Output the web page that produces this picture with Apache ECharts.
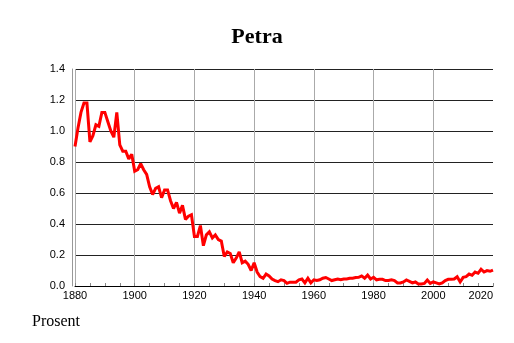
<!DOCTYPE html>
<html>
<head>
<meta charset="utf-8">
<script src="https://cdn.jsdelivr.net/npm/echarts@6/dist/echarts.min.js"></script>
<style>
  html, body { margin: 0; padding: 0; background: #fff; }
  #chart { width: 514px; height: 343px; }
</style>
</head>
<body>
<div id="chart"></div>
<script>
// år og andel (prosent)
const startYear = 1880
const values = [
  0.90, 1.02, 1.12, 1.18, 1.18, 0.93, 0.97, 1.04, 1.03, 1.12,
  1.12, 1.06, 1.00, 0.96, 1.12, 0.91, 0.87, 0.87, 0.82, 0.85,
  0.74, 0.75, 0.79, 0.75, 0.72, 0.64, 0.59, 0.63, 0.64, 0.57,
  0.62, 0.62, 0.55, 0.50, 0.54, 0.47, 0.52, 0.43, 0.45, 0.46,
  0.32, 0.32, 0.39, 0.26, 0.33, 0.35, 0.31, 0.33, 0.30, 0.29,
  0.19, 0.22, 0.21, 0.15, 0.18, 0.22, 0.15, 0.16, 0.14, 0.10,
  0.15, 0.09, 0.06, 0.05, 0.077, 0.065, 0.045, 0.035, 0.028, 0.04,
  0.035, 0.017, 0.025, 0.025, 0.025, 0.04, 0.045, 0.02, 0.05, 0.02,
  0.04, 0.035, 0.04, 0.05, 0.055, 0.045, 0.035, 0.04, 0.045, 0.04,
  0.045, 0.045, 0.05, 0.05, 0.055, 0.056, 0.065, 0.05, 0.07, 0.045,
  0.056, 0.04, 0.043, 0.043, 0.035, 0.035, 0.04, 0.035, 0.02, 0.02,
  0.026, 0.039, 0.03, 0.02, 0.026, 0.013, 0.013, 0.017, 0.039, 0.017,
  0.026, 0.02, 0.013, 0.02, 0.035, 0.043, 0.043, 0.045, 0.06, 0.026,
  0.056, 0.06, 0.077, 0.069, 0.09, 0.082, 0.108, 0.09, 0.099, 0.095,
  0.103
]
const years = values.map((v, i) => startYear + i)
const yTicks = [0, 0.2, 0.4, 0.6, 0.8, 1.0, 1.2, 1.4]
const xTicks = [1880, 1900, 1920, 1940, 1960, 1980, 2000, 2020]

const myChart = echarts.init(document.getElementById('chart'))

const option = {
  animation: false,
  title: {
    text: 'Petra',
    left: 'center',
    top: 21,
    textStyle: {
      fontFamily: 'Liberation Serif',
      fontWeight: 'bold',
      fontSize: 22,
      color: '#000',
    },
  },
  graphic: [
    {
      type: 'text',
      left: 32,
      top: 314,
      style: {
        text: 'Prosent',
        font: '16px "Liberation Serif"',
        fill: '#000',
      },
    },
  ],
  grid: {
    left: 75,
    right: 21,
    top: 69,
    bottom: 57,
  },
  xAxis: {
    type: 'value',
    min: xTicks[0],
    max: xTicks[xTicks.length - 1],
    interval: 20,
    axisLine: { lineStyle: { color: '#000', width: 1 } },
    axisTick: { show: true, inside: true, length: 3, lineStyle: { color: '#888' } },
    minorTick: { show: true, splitNumber: 4, length: 3, lineStyle: { color: '#888' } },
    axisLabel: {
      fontFamily: 'Liberation Sans',
      fontSize: 11,
      color: '#000',
      margin: 4,
      alignMaxLabel: 'right',
      formatter: (v) => String(v),
    },
    splitLine: { show: true, showMaxLine: false, lineStyle: { color: '#aaa', width: 1 } },
  },
  yAxis: {
    type: 'value',
    min: yTicks[0],
    max: yTicks[yTicks.length - 1],
    interval: 0.2,
    offset: 3,
    axisLine: { show: true, lineStyle: { color: '#999', width: 1 } },
    axisTick: { show: false },
    axisLabel: {
      fontFamily: 'Liberation Sans',
      fontSize: 11,
      color: '#000',
      margin: 7,
      formatter: (v) => v.toFixed(1),
    },
    splitLine: { lineStyle: { color: '#222', width: 1 } },
  },
  series: [
    {
      type: 'line',
      data: years.map((y, i) => [y, values[i]]),
      showSymbol: false,
      lineStyle: { color: '#ff0000', width: 3, join: 'miter', miterLimit: 2 },
    },
  ],
}
myChart.setOption(option)
</script>
</body>
</html>
